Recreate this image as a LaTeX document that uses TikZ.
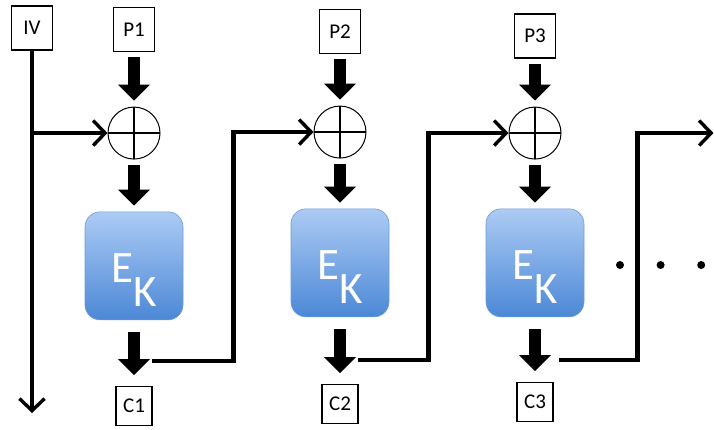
\documentclass[tikz,border=0pt]{standalone}
\usepackage{fontspec}
\setmainfont{Carlito}
\usepackage{tikz}
\usetikzlibrary{shapes, positioning, arrows.meta}

\definecolor{ektop}{RGB}{172,203,244}
\definecolor{ekbot}{RGB}{76,136,214}
\definecolor{ekline}{RGB}{110,155,214}

\begin{document}
\begin{tikzpicture}[x=1pt, y=-1pt, semithick, node distance=5em]
\tikzstyle{pbox}=[draw, rectangle, line width=1.1pt, minimum width=41pt, minimum height=44pt, inner sep=0pt, font=\fontsize{21}{21}\selectfont]
\tikzstyle{cbox}=[pbox, minimum width=36pt, minimum height=39pt]
\tikzstyle{xorc}=[draw, circle, line width=1pt, minimum size=52pt, inner sep=0pt, path picture={\draw[line width=1.3pt] (path picture bounding box.north) -- (path picture bounding box.south) (path picture bounding box.west) -- (path picture bounding box.east);}]
\tikzstyle{ebox}=[rectangle, rounded corners=15pt, minimum width=98pt, minimum height=108pt, top color=ektop, bottom color=ekbot, draw=ekline, line width=0.6pt]
\tikzstyle{elabel}=[text=white, font=\fontsize{45}{45}\selectfont, yshift=-14pt]
\tikzstyle{fat}=[line width=12pt, -{Triangle[length=16pt, width=31pt]}]
\tikzstyle{fb}=[line width=4.5pt, -{Straight Barb[length=12pt, width=25pt, line width=3.4pt]}]
\tikzstyle{dot}=[circle, fill=black, minimum size=8pt, inner sep=0pt]

\useasboundingbox (0,0) rectangle (714,429);

\node[pbox]    (IV)   at (32,28)   {IV};

\node[pbox]    (P1)   at (134,29.5)   {P1};
\node[xorc]    (X1)   [below=54.5pt of P1]   {};
\node[ebox, label={[elabel]center:E\raisebox{-24pt}{K}}]    (E1)   [below=52pt of X1]   {};
\node[cbox]    (C1)   [below=66pt of E1]   {C1};

\node[pbox]    (P2)   at (340,31.5)   {P2};
\node[xorc]    (X2)   [below=51.5pt of P2]   {};
\node[ebox, label={[elabel]center:E\raisebox{-24pt}{K}}]    (E2)   [below=50pt of X2]   {};
\node[cbox]    (C2)   [below=67pt of E2]   {C2};

\node[pbox]    (P3)   at (535,36)   {P3};
\node[xorc]    (X3)   [below=48pt of P3]   {};
\node[ebox, label={[elabel]center:E\raisebox{-24pt}{K}}]    (E3)   [below=49pt of X3]   {};
\node[cbox]    (C3)   [below=65pt of E3]   {C3};

\node[dot]    (d1)   at (620,265)   {};
\node[dot]    (d2)   [right=32pt of d1]   {};
\node[dot]    (d3)   [right=32pt of d2]   {};

\coordinate (ivend) at (32,413);
\coordinate (o1) at ([xshift=18pt, yshift=-41pt]E1.south);
\coordinate (o2) at ([xshift=18pt, yshift=-43pt]E2.south);
\coordinate (o3) at ([xshift=24pt, yshift=-43pt]E3.south);
\coordinate (next) at ([xshift=152pt]X3.east);

\path[shorten <=5pt, shorten >=6pt]
(P1.south) edge[fat]   (X1.north)
(X1.south) edge[fat]   (E1.north)
(P2.south) edge[fat]   (X2.north)
(X2.south) edge[fat]   (E2.north)
(P3.south) edge[fat]   (X3.north)
(X3.south) edge[fat]   (E3.north);

\path[shorten <=12pt, shorten >=11pt]
(E1.south) edge[fat]   (C1.north)
(E2.south) edge[fat]   (C2.north)
(E3.south) edge[fat]   (C3.north);

\draw[fb] (IV) -- (ivend);
\draw[fb] (IV.south |- X1.west) -- (X1.west);
\draw[fb] (o1) -| ([xshift=-80pt]X2.west) -- (X2.west);
\draw[fb] (o2) -| ([xshift=-80pt]X3.west) -- (X3.west);
\draw[fb] (o3) -| ([xshift=-76pt]next) -- (next);

\end{tikzpicture}
\end{document}
